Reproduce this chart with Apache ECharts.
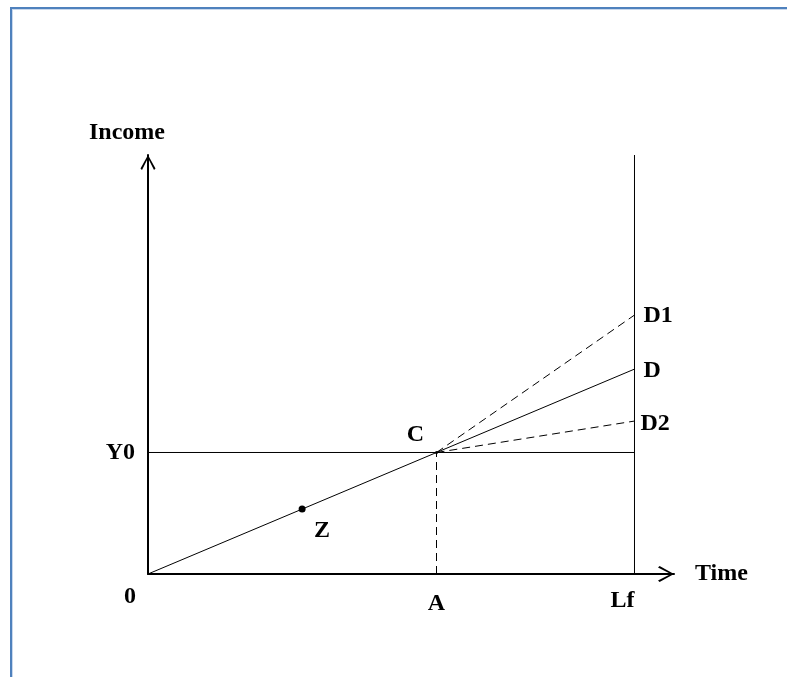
<!DOCTYPE html>
<html>
<head>
<meta charset="utf-8">
<title>Income over time</title>
<script src="https://cdn.jsdelivr.net/npm/echarts@6/dist/echarts.min.js"></script>
<style>
  html, body { margin: 0; padding: 0; background: #fff; }
  #frame {
    position: absolute; top: 7px; left: 10px; right: 0; bottom: 0;
    border-top: 2px solid #4f81bd; border-left: 2px solid #4f81bd;
    box-shadow: inset 1px 1px 0 #c9d8ec;
  }
  #main { position: absolute; top: 0; left: 0; width: 787px; height: 677px; }
</style>
</head>
<body>
<div id="frame"></div>
<div id="main"></div>
<script>
// positions along the axes (axis runs 0..100 up to the arrow tips)
const timeA = 54.85;     // A
const timeLf = 92.49;    // Lf
const incomeY0 = 29.0;   // Y0, income reached at C

// income at Lf for the three paths after C
const endNames = ['D1', 'D', 'D2'];
const endValues = [61.8, 48.9, 36.5];

const pointZ = [29.3, 15.5];

const font = {
  fontFamily: 'Liberation Serif, Times New Roman, serif',
  fontWeight: 'bold',
  fontSize: 24,
  color: '#000'
};

// chevron pointing up, ECharts turns it along the axis
const chevron = 'path://M0,9 L5,0 L10,9 L9,10 L5,2 L1,10 Z';

const chart = echarts.init(document.getElementById('main'), null, { renderer: 'canvas' });

function seg(points, dashed) {
  return {
    type: 'line',
    data: points,
    symbol: 'none',
    silent: true,
    lineStyle: { color: '#000', width: 1, type: dashed ? [8, 5] : 'solid' },
    z: 3
  };
}

const series = [
  // 0 -> C -> D
  seg([[0, 0], [timeA, incomeY0], [timeLf, endValues[1]]], false),
  // Y0 level
  seg([[0, incomeY0], [timeLf, incomeY0]], false),
  // Lf vertical
  seg([[timeLf, 0], [timeLf, 100]], false),
  // A dashed drop
  seg([[timeA, 0], [timeA, incomeY0]], true),
  // C -> D1 and C -> D2
  seg([[timeA, incomeY0], [timeLf, endValues[0]]], true),
  seg([[timeA, incomeY0], [timeLf, endValues[2]]], true),
  {
    type: 'scatter',
    silent: true,
    symbolSize: 7,
    itemStyle: { color: '#000', opacity: 1 },
    data: [pointZ],
    z: 4
  },
  {
    type: 'scatter',
    silent: true,
    symbolSize: 3,
    itemStyle: { color: '#000', opacity: 1 },
    data: [[timeA, incomeY0]],
    z: 4
  },
  {
    // text labels
    type: 'scatter',
    silent: true,
    symbolSize: 0,
    itemStyle: { color: '#000', opacity: 1 },
    label: Object.assign({
      show: true, formatter: '{b}', position: 'inside',
      textBorderWidth: 0, textShadowBlur: 0
    }, font),
    data: [
      { name: '0', value: [0, 0], label: { offset: [-18, 23] } },
      { name: 'A', value: [timeA, 0], label: { offset: [0, 30] } },
      { name: 'Lf', value: [timeLf, 0], label: { offset: [-12, 27] } },
      { name: 'Y0', value: [0, incomeY0], label: { position: 'left', distance: 13 } },
      { name: 'C', value: [timeA, incomeY0], label: { offset: [-21, -18] } },
      { name: 'Z', value: pointZ, label: { offset: [20, 22] } },
      { name: endNames[0], value: [timeLf, endValues[0]], label: { position: 'right', distance: 9, offset: [0, 1] } },
      { name: endNames[1], value: [timeLf, endValues[1]], label: { position: 'right', distance: 9, offset: [0, 2] } },
      { name: endNames[2], value: [timeLf, endValues[2]], label: { position: 'right', distance: 6, offset: [0, 3] } }
    ],
    z: 5
  }
];

const option = {
  animation: false,
  backgroundColor: 'transparent',
  grid: { left: 148, top: 155, right: 113, bottom: 103, containLabel: false, outerBoundsMode: 'none' },
  xAxis: {
    type: 'value',
    min: 0,
    max: 100,
    name: 'Time',
    nameLocation: 'end',
    nameGap: 21,
    nameTextStyle: Object.assign({ padding: [10, 0, 0, 0] }, font),
    axisLine: {
      show: true,
      symbol: ['none', chevron],
      symbolSize: [16, 16],
      symbolOffset: [0, -8],
      lineStyle: { color: '#000', width: 2 }
    },
    axisTick: { show: false },
    axisLabel: { show: false },
    splitLine: { show: false }
  },
  yAxis: {
    type: 'value',
    min: 0,
    max: 100,
    name: 'Income',
    nameLocation: 'end',
    nameGap: 10,
    nameTextStyle: Object.assign({ padding: [0, 42, 0, 0] }, font),
    axisLine: {
      show: true,
      symbol: ['none', chevron],
      symbolSize: [16, 15],
      symbolOffset: [0, -7.5],
      lineStyle: { color: '#000', width: 2 }
    },
    axisTick: { show: false },
    axisLabel: { show: false },
    splitLine: { show: false }
  },
  series: series
};

chart.setOption(option);
</script>
</body>
</html>
